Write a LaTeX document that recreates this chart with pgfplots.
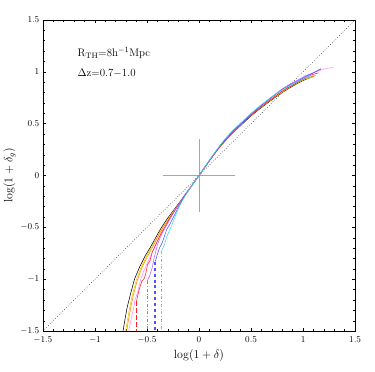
\documentclass[border=0pt]{standalone}
\usepackage{pgfplots}
\pgfplotsset{compat=1.18}

\definecolor{cgold}{RGB}{235,205,0}
\definecolor{corange}{RGB}{255,140,0}
\definecolor{cpink}{RGB}{255,140,255}
\definecolor{cred}{RGB}{255,30,40}
\definecolor{cviolet}{RGB}{180,100,255}
\definecolor{cblue}{RGB}{80,80,255}
\definecolor{ccyan}{RGB}{60,220,230}

\begin{document}
\begin{tikzpicture}
\begin{axis}[
  at={(0,0)}, anchor=south west,
  scale only axis,
  width=314pt, height=313pt,
  xmin=-1.5, xmax=1.5, ymin=-1.5, ymax=1.5,
  xtick={-1.5,-1,-0.5,0,0.5,1,1.5},
  ytick={-1.5,-1,-0.5,0,0.5,1,1.5},
  minor tick num=4,
  major tick length=3.5pt, minor tick length=2pt,
  tick style={black, line width=0.5pt},
  axis line style={line width=0.6pt},
  ticklabel style={font=\small},
  xticklabel style={yshift=-2.5pt},
  xlabel={\fontsize{11.5}{13}\selectfont$\log(1+\delta)$},
  ylabel={\fontsize{11.5}{13}\selectfont$\log(1+\delta_g)$},
  xlabel style={yshift=1pt},
  ylabel style={yshift=-2pt},
  clip=true,
  every axis plot/.append style={line width=0.55pt},
]
% diagonal and cross
\addplot[black, dotted, line width=0.5pt] coordinates {(-1.5,-1.5) (1.5,1.5)};
\addplot[gray!70, line width=0.7pt] coordinates {(-0.35,0) (0.35,0)};
\addplot[gray!70, line width=0.7pt] coordinates {(0,-0.35) (0,0.35)};

% black
\addplot[black] coordinates {
(-0.73,-1.5) (-0.71,-1.38) (-0.69,-1.27) (-0.66,-1.15) (-0.62,-1.0)
(-0.57,-0.88) (-0.52,-0.78) (-0.46,-0.68) (-0.40,-0.57) (-0.36,-0.50)
(-0.30,-0.41) (-0.24,-0.33) (-0.18,-0.25) (-0.12,-0.165) (-0.06,-0.083)
(0,0) (0.06,0.085) (0.12,0.168) (0.18,0.25) (0.24,0.32) (0.30,0.385)
(0.36,0.445) (0.42,0.50) (0.50,0.575) (0.58,0.64) (0.66,0.70)
(0.72,0.745) (0.80,0.80) (0.88,0.85) (0.95,0.89) (1.02,0.925) (1.10,0.955)};

% gold
\addplot[cgold] coordinates {
(-0.705,-1.5) (-0.685,-1.38) (-0.665,-1.27) (-0.64,-1.15) (-0.60,-1.0)
(-0.555,-0.88) (-0.505,-0.78) (-0.45,-0.68) (-0.39,-0.57) (-0.35,-0.50)
(-0.29,-0.41) (-0.235,-0.33) (-0.175,-0.25) (-0.12,-0.165) (-0.06,-0.083)
(0,0) (0.06,0.085) (0.12,0.17) (0.18,0.25) (0.24,0.322) (0.30,0.388)
(0.36,0.448) (0.42,0.505) (0.50,0.58) (0.58,0.645) (0.66,0.705)
(0.72,0.75) (0.80,0.805) (0.88,0.855) (0.95,0.895) (1.02,0.93) (1.10,0.95)};

% orange
\addplot[corange] coordinates {
(-0.695,-1.5) (-0.675,-1.38) (-0.655,-1.27) (-0.63,-1.15) (-0.59,-1.0)
(-0.545,-0.88) (-0.495,-0.78) (-0.44,-0.68) (-0.385,-0.57) (-0.345,-0.50)
(-0.285,-0.41) (-0.23,-0.33) (-0.17,-0.25) (-0.115,-0.165) (-0.058,-0.083)
(0,0) (0.06,0.087) (0.12,0.172) (0.18,0.253) (0.24,0.325) (0.30,0.39)
(0.36,0.45) (0.42,0.507) (0.50,0.583) (0.58,0.65) (0.66,0.71)
(0.72,0.755) (0.80,0.81) (0.88,0.86) (0.95,0.90) (1.02,0.935) (1.12,0.965)};

% pink
\addplot[cpink] coordinates {
(-0.675,-1.5) (-0.655,-1.4) (-0.63,-1.29) (-0.615,-1.2) (-0.585,-1.11)
(-0.56,-1.0) (-0.53,-0.92) (-0.49,-0.83) (-0.44,-0.72) (-0.39,-0.61)
(-0.34,-0.52) (-0.28,-0.42) (-0.22,-0.32) (-0.16,-0.23) (-0.10,-0.14)
(-0.05,-0.07) (0,0) (0.06,0.087) (0.12,0.172) (0.18,0.255) (0.24,0.33)
(0.30,0.395) (0.36,0.455) (0.42,0.51) (0.50,0.585) (0.58,0.655)
(0.66,0.72) (0.72,0.77) (0.80,0.83) (0.88,0.88) (0.95,0.92)
(1.02,0.955) (1.10,0.99) (1.18,1.02) (1.24,1.035) (1.29,1.04)};

% red
\addplot[cred] coordinates {
(-0.60,-1.21) (-0.585,-1.14) (-0.575,-1.10) (-0.55,-1.02) (-0.525,-0.99)
(-0.51,-0.94) (-0.495,-0.86) (-0.47,-0.82) (-0.45,-0.74) (-0.42,-0.68)
(-0.39,-0.61) (-0.36,-0.55) (-0.33,-0.50)
(-0.28,-0.41) (-0.22,-0.32) (-0.16,-0.225) (-0.10,-0.14) (-0.05,-0.07)
(0,0) (0.06,0.086) (0.12,0.17) (0.18,0.252) (0.24,0.325) (0.30,0.39)
(0.36,0.45) (0.42,0.507) (0.50,0.58) (0.58,0.648) (0.66,0.71)
(0.72,0.755) (0.80,0.815) (0.88,0.86) (0.95,0.90) (1.02,0.94)
(1.08,0.97) (1.15,0.99)};
\addplot[cred, dash pattern=on 5pt off 2pt, line width=1.1pt] coordinates {(-0.60,-1.21) (-0.60,-1.5)};

% violet
\addplot[cviolet] coordinates {
(-0.50,-1.02) (-0.475,-0.97) (-0.45,-0.89) (-0.43,-0.79) (-0.40,-0.67)
(-0.37,-0.59) (-0.34,-0.53) (-0.30,-0.46) (-0.26,-0.38) (-0.21,-0.30)
(-0.15,-0.21) (-0.10,-0.14) (-0.05,-0.07) (0,0) (0.06,0.088)
(0.12,0.175) (0.18,0.258) (0.24,0.335) (0.30,0.40) (0.36,0.46)
(0.42,0.515) (0.50,0.59) (0.58,0.66) (0.66,0.725) (0.72,0.775)
(0.80,0.835) (0.88,0.885) (0.95,0.92) (1.02,0.96) (1.10,0.99)
(1.17,1.03)};
\addplot[cviolet, dash dot, line width=0.8pt] coordinates {(-0.50,-1.02) (-0.50,-1.5)};

% blue
\addplot[cblue] coordinates {
(-0.42,-0.83) (-0.40,-0.76) (-0.38,-0.70) (-0.35,-0.64) (-0.33,-0.58)
(-0.31,-0.52) (-0.28,-0.47) (-0.24,-0.39) (-0.19,-0.29) (-0.14,-0.20)
(-0.09,-0.13) (-0.045,-0.065) (0,0) (0.06,0.088) (0.12,0.175)
(0.18,0.258) (0.24,0.333) (0.30,0.40) (0.36,0.46) (0.42,0.515)
(0.50,0.59) (0.58,0.66) (0.66,0.725) (0.72,0.77) (0.80,0.83)
(0.88,0.875) (0.95,0.91) (1.02,0.95) (1.10,0.99) (1.17,1.025)};
\addplot[cblue, dashed, line width=1.6pt] coordinates {(-0.42,-0.83) (-0.42,-1.5)};

% cyan
\addplot[ccyan] coordinates {
(-0.36,-0.73) (-0.33,-0.66) (-0.31,-0.59) (-0.28,-0.52) (-0.25,-0.45)
(-0.22,-0.37) (-0.18,-0.28) (-0.13,-0.19) (-0.085,-0.12) (-0.04,-0.06)
(0,0) (0.06,0.09) (0.12,0.178) (0.18,0.262) (0.24,0.34) (0.30,0.41)
(0.36,0.47) (0.42,0.525) (0.50,0.60) (0.58,0.668) (0.66,0.73)
(0.72,0.775) (0.80,0.825) (0.88,0.87) (0.95,0.905) (1.02,0.94)
(1.08,0.965)};
\addplot[ccyan, dash dot, line width=0.8pt] coordinates {(-0.36,-0.73) (-0.36,-1.5)};

\node[anchor=west, font=\fontsize{11}{13}\selectfont] at (axis cs:-1.2,1.18) {R$_{\rm TH}$=8h$^{-1}$Mpc};
\node[anchor=west, font=\fontsize{11}{13}\selectfont] at (axis cs:-1.2,0.99) {$\Delta$z=0.7$-$1.0};
\end{axis}
\path[use as bounding box] (-41pt,-41pt) rectangle (334pt,333pt);
\end{tikzpicture}
\end{document}
